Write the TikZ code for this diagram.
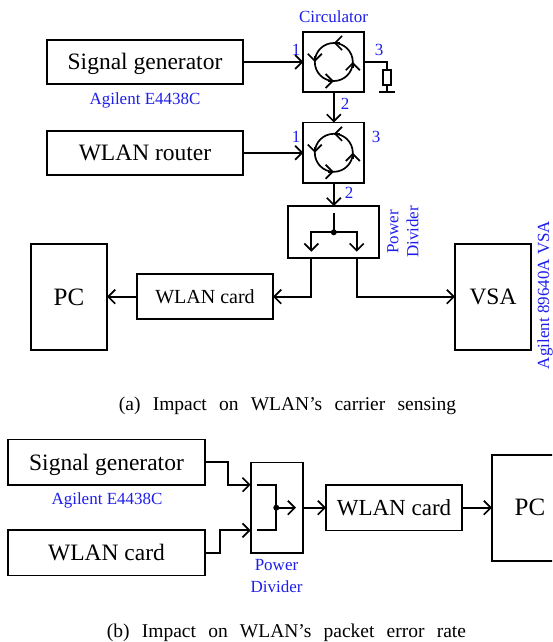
\documentclass[tikz,border=0pt]{standalone}
\usepackage{fontspec}
\setmainfont{Liberation Serif}
\usetikzlibrary{arrows.meta,calc}
\definecolor{lab}{RGB}{30,30,235}
\newcommand{\blk}{\fontsize{23.5}{26}\selectfont}
\newcommand{\blkc}{\fontsize{23}{26}\selectfont}
\newcommand{\blkb}{\fontsize{25}{26}\selectfont}
\newcommand{\blkm}{\fontsize{20}{22}\selectfont}
\newcommand{\lbl}{\fontsize{17}{20}\selectfont}
\newcommand{\cpt}{\fontsize{19.5}{22}\selectfont\spaceskip=12.2pt\relax}
\tikzset{
 wire/.style={line width=1.7pt},
 arr/.style={wire,-{Straight Barb[length=7pt,width=14pt,line width=1.7pt]}},
 blockbox/.style={draw,line width=1.7pt,inner sep=0pt,outer sep=0pt,align=center,text height=16pt,text depth=0pt},
 lab/.style={text=lab,font=\lbl,inner sep=0pt,align=center},
 caption/.style={font=\cpt,inner sep=0pt},
 dot/.style={circle,fill=black,inner sep=0pt,minimum size=6pt},
}
\newcommand{\circsym}[1]{%
 \draw[wire] (#1) circle[radius=19];
 \foreach \a in {0,90,180,270}{\draw[arr] ($(#1)+(\a:19)+(\a-90:6)$) -- ($(#1)+(\a:19)$);}%
}
\begin{document}
\begin{tikzpicture}[x=1pt,y=1pt]
\path[use as bounding box,clip] (0,0) rectangle (552,-642);
% (a)
\node[blockbox,minimum width=196,minimum height=44,font=\blk] (sg) at (145,-62) {Signal generator};
\node[blockbox,minimum width=196,minimum height=44,font=\blk] (router) at (145,-152.8) {WLAN router};
\node[blockbox,minimum width=61,minimum height=60.6] (c1) at (333.8,-62) {};
\node[blockbox,minimum width=61,minimum height=60.6] (c2) at (333.8,-152.8) {};
\node[blockbox,minimum width=91,minimum height=52] (pd) at (333.8,-232) {};
\node[blockbox,minimum width=76,minimum height=106,font=\blkb] (pc) at (69,-297) {PC};
\node[blockbox,minimum width=136,minimum height=45,font=\blkm,text height=13pt] (card) at (205,-296.7) {WLAN card};
\node[blockbox,minimum width=76,minimum height=106,font=\blk] (vsa) at (493,-296.7) {VSA};
\circsym{c1}
\circsym{c2}
\node[lab] (t1) at (333.5,-17) {Circulator};
\node[lab] (t2) at (145,-100) {Agilent E4438C};
\node[lab] (n1) at (296,-50) {1};
\node[lab] (n2) at (379,-50) {3};
\node[lab] (n3) at (345,-104) {2};
\node[lab] (n4) at (296,-137) {1};
\node[lab] (n5) at (376,-137) {3};
\node[lab] (n6) at (349,-193) {2};
\node[lab,rotate=90] (t3) at (403,-232) {Power\\[0pt]Divider};
\node[lab,rotate=90] (t4) at (545,-295) {Agilent 89640A VSA};
\draw[arr] (sg.east) -- (c1.west);
\draw[arr] (router.east) -- (c2.west);
\draw[arr] (c1.south) -- (c2.north);
\draw[arr] (c2.south) -- (pd.north);
% resistor
\node[draw,line width=1.7pt,inner sep=0pt,minimum width=8,minimum height=15] (res) at (387,-77.5) {};
\coordinate (gnd) at (387,-92);
\coordinate (gndl) at (379,-92);
\coordinate (gndr) at (395,-92);
\draw[wire] (c1.east) -| (res.north);
\draw[wire] (res.south) -- (gnd);
\draw[wire] (gndl) -- (gndr);
% divider inner
\coordinate (pdtop) at (333.8,-212.7);
\node[dot] (pddot) at (333.8,-232.3) {};
\coordinate (pdl) at (311.3,-232.3);
\coordinate (pdr) at (356.7,-232.3);
\coordinate (pdlb) at (311.3,-251.7);
\coordinate (pdrb) at (356.7,-251.7);
\coordinate (pdlo) at (311.3,-258);
\coordinate (pdro) at (356.7,-258);
\draw[wire] (pdtop) -- (pddot.center);
\draw[arr] (pddot.center) -- (pdl) -- (pdlb);
\draw[arr] (pddot.center) -- (pdr) -- (pdrb);
\draw[arr] (pdlo) |- (card.east);
\draw[arr] (pdro) |- (vsa.west);
\draw[arr] (card.west) -- (pc.east |- card.west);
\node[caption] (capa) at (287.5,-406) {(a) Impact on WLAN’s carrier sensing};
% (b)
\node[blockbox,minimum width=197,minimum height=45.5,font=\blk] (sgb) at (106.5,-462.2) {Signal generator};
\node[blockbox,minimum width=197,minimum height=45.5,font=\blk] (cardl) at (106.5,-552.8) {WLAN card};
\node[blockbox,minimum width=52,minimum height=90.4] (pdb) at (276.7,-507.7) {};
\node[blockbox,minimum width=136,minimum height=45.3,font=\blkc] (cardr) at (394,-507.7) {WLAN card};
\node[blockbox,minimum width=76,minimum height=106,font=\blkb] (pcb) at (530,-507.7) {PC};
\node[lab] (t5) at (107,-500) {Agilent E4438C};
\node[lab] (t6) at (276.5,-576) {Power\\[2pt]Divider};
\coordinate (inU) at (250.7,-484.7);
\coordinate (inL) at (250.7,-530.3);
\coordinate (bendU) at (228.3,-462.2);
\coordinate (bendL) at (220,-552.8);
\draw[arr] (sgb.east) -- (bendU) |- (inU);
\draw[arr] (cardl.east) -- (bendL) |- (inL);
\coordinate (iU) at (256.7,-484.7);
\coordinate (iL) at (256.7,-530.3);
\node[dot] (pdbdot) at (276.3,-507.7) {};
\coordinate (iO) at (296,-507.7);
\draw[wire] (iU) -| (pdbdot.center) |- (iL);
\draw[arr] (pdbdot.center) -- (iO);
\draw[arr] (pdb.east) -- (cardr.west);
\draw[arr] (cardr.east) -- (pcb.west);
\node[caption] (capb) at (286.5,-633) {(b) Impact on WLAN’s packet error rate};
\end{tikzpicture}
\end{document}
